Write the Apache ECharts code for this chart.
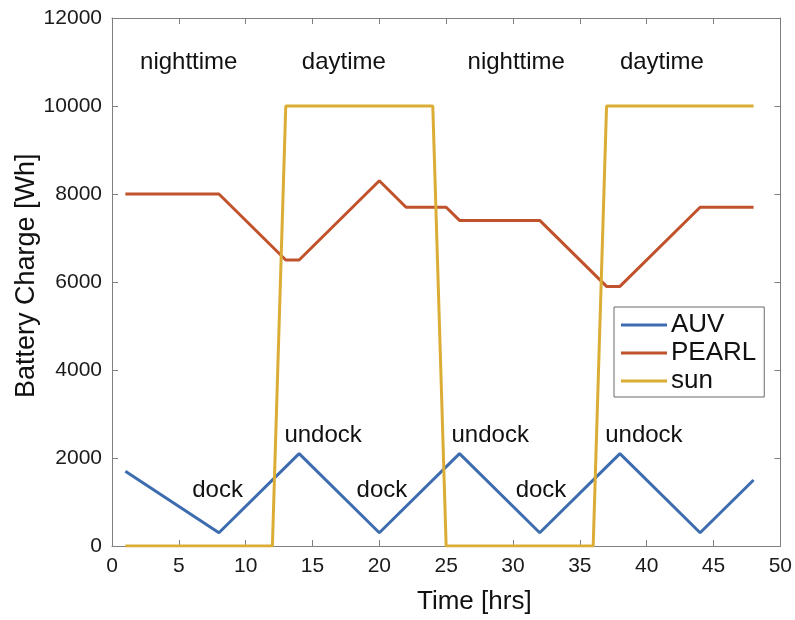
<!DOCTYPE html>
<html lang="en">
<head>
    <meta charset="UTF-8">
    <title>Battery Charge</title>
    <script src="https://cdn.jsdelivr.net/npm/echarts@6/dist/echarts.min.js"></script>
    <style>
        body { margin: 0; padding: 0; background: #fff; }
        #box { width: 795px; height: 620px; }
    </style>
</head>
<body>
<div id="box"></div>
<script>
    // time [hrs] and battery charge [Wh]
    var auvHours = [1, 8, 14, 20, 26, 32, 38, 44, 48];
    var auvCharge = [1700, 300, 2100, 300, 2100, 300, 2100, 300, 1500];

    var pearlHours = [1, 8, 13, 14, 20, 22, 25, 26, 32, 37, 38, 44, 48];
    var pearlCharge = [8000, 8000, 6500, 6500, 8300, 7700, 7700, 7400, 7400, 5900, 5900, 7700, 7700];

    var sunHours = [1, 12, 13, 24, 25, 36, 37, 48];
    var sunLevel = [0, 0, 10000, 10000, 0, 0, 10000, 10000];

    // text notes (left edge at hour, centred on charge)
    var noteText = ['nighttime', 'daytime', 'nighttime', 'daytime', 'dock', 'undock', 'dock', 'undock', 'dock', 'undock'];
    var noteHours = [2.1, 14.2, 26.6, 38.0, 6.0, 12.9, 18.3, 25.4, 30.2, 36.9];
    var noteCharge = [11000, 11000, 11000, 11000, 1270, 2520, 1270, 2520, 1270, 2520];

    function pairs(xs, ys) {
        return xs.map(function (x, i) { return [x, ys[i]]; });
    }

    var font = 'Liberation Sans, Arial, Helvetica, sans-serif';
    var axisGray = '#7f7f7f';

    function axisCommon(showLabel) {
        return {
            axisLine: { show: true, onZero: false, lineStyle: { color: axisGray, width: 1 } },
            axisTick: { show: true, inside: true, length: 6, lineStyle: { color: axisGray } },
            axisLabel: {
                show: showLabel, color: '#1a1a1a', fontSize: 21, fontFamily: font, margin: 10,
                formatter: function (v) { return String(v); }
            },
            splitLine: { show: false }
        };
    }

    var myChart = echarts.init(document.getElementById('box'));

    var option = {
        animation: false,
        backgroundColor: '#fff',
        grid: { left: 112, right: 12, top: 18, bottom: 74 },
        legend: {
            data: ['AUV', 'PEARL', 'sun'],
            orient: 'vertical',
            left: 614,
            top: 307,
            padding: [5, 8, 3, 7],
            itemGap: 2,
            itemWidth: 46,
            itemHeight: 3,
            icon: 'rect',
            borderColor: '#6b6b6b',
            borderWidth: 1,
            backgroundColor: '#fff',
            textStyle: { fontSize: 26, fontFamily: font, color: '#111', padding: [0, 0, 0, -1] }
        },
        xAxis: [
            Object.assign({ type: 'value', min: 0, max: 50, interval: 5, position: 'bottom' }, axisCommon(true)),
            Object.assign({ type: 'value', min: 0, max: 50, interval: 5, position: 'top' }, axisCommon(false))
        ],
        yAxis: [
            Object.assign({ type: 'value', min: 0, max: 12000, interval: 2000, position: 'left' }, axisCommon(true)),
            Object.assign({ type: 'value', min: 0, max: 12000, interval: 2000, position: 'right' }, axisCommon(false))
        ],
        graphic: [
            {
                type: 'text',
                left: 417, top: 589,
                style: { text: 'Time [hrs]', fontSize: 26, fontFamily: font, fill: '#111' }
            },
            {
                type: 'text',
                x: 13, y: 398,
                rotation: Math.PI / 2,
                style: { text: 'Battery Charge [Wh]', fontSize: 27, fontFamily: font, fill: '#111', align: 'left', verticalAlign: 'top' }
            }
        ],
        series: [
            {
                name: 'AUV', type: 'line', data: pairs(auvHours, auvCharge),
                showSymbol: false, symbol: 'none',
                lineStyle: { color: '#3e6daf', width: 3 }, itemStyle: { color: '#3e6daf' }
            },
            {
                name: 'PEARL', type: 'line', data: pairs(pearlHours, pearlCharge),
                showSymbol: false, symbol: 'none',
                lineStyle: { color: '#c0522c', width: 3 }, itemStyle: { color: '#c0522c' }
            },
            {
                name: 'sun', type: 'line', data: pairs(sunHours, sunLevel),
                showSymbol: false, symbol: 'none',
                lineStyle: { color: '#dbad35', width: 3 }, itemStyle: { color: '#dbad35' }
            },
            {
                name: 'notes', type: 'scatter', symbolSize: 0, silent: true,
                itemStyle: { opacity: 1 },
                data: noteText.map(function (t, i) { return { name: t, value: [noteHours[i], noteCharge[i]] }; }),
                label: {
                    show: true, position: 'right', distance: 0,
                    formatter: '{b}', fontSize: 24, fontFamily: font, color: '#111'
                }
            }
        ]
    };

    myChart.setOption(option);
</script>
</body>
</html>
